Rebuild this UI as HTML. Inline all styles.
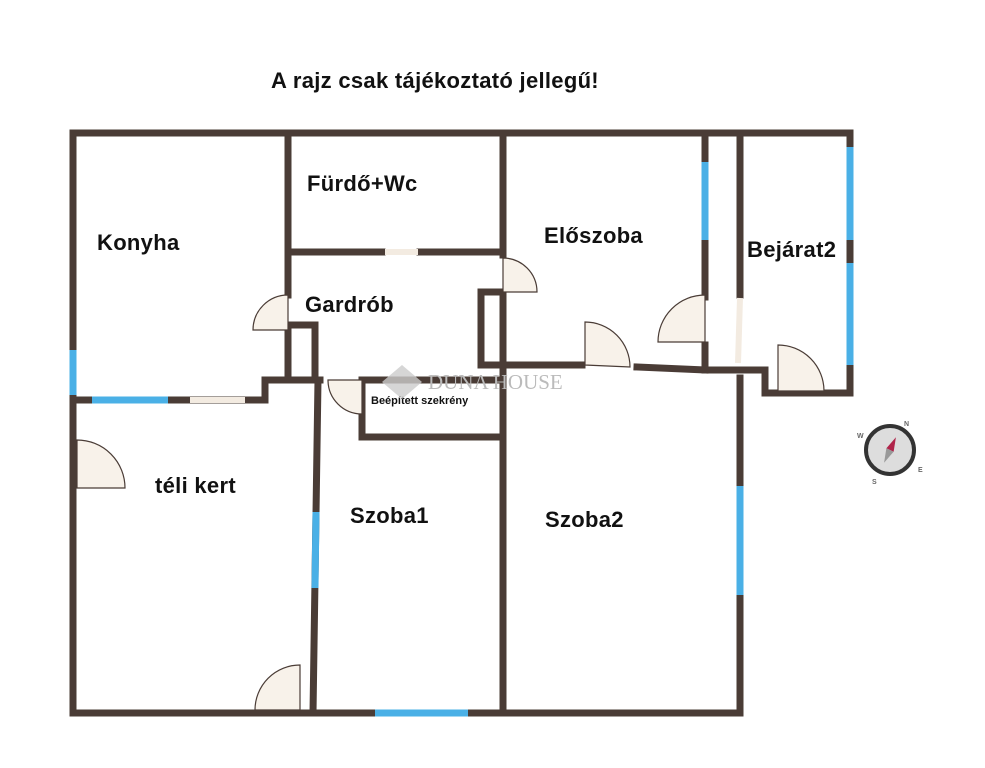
<!DOCTYPE html>
<html><head><meta charset="utf-8"><style>
html,body{margin:0;padding:0;background:#fff;}
svg{display:block}
text{font-family:"Liberation Sans",sans-serif;font-weight:bold;fill:#111}
.l{font-size:22px;letter-spacing:0.3px}
</style></head><body>
<svg width="985" height="768" viewBox="0 0 985 768" xmlns="http://www.w3.org/2000/svg">
<text x="435" y="88" font-size="22" text-anchor="middle" style="letter-spacing:0.3px">A rajz csak tájékoztató jellegű!</text>
<g stroke="#4a3c36" stroke-width="7" fill="none" stroke-linecap="square">
<path d="M850 133 H73 V713 H740"/>
<path d="M850 133 V393 H770"/>
<path d="M288 133 V295 M288 330 V380"/>
<path d="M288 252 H382 M420 252 H503"/>
<path d="M503 133 V255"/>
<path d="M503 292 H481 V365 H582 M637 367 L705 370"/>
<path d="M503 292 V713"/>
<path d="M705 133 V297 M705 345 V370 H765 V393"/>
<path d="M740 133 V295"/>
<path d="M740 378 V713"/>
<path d="M288 325 H315 V380"/>
<path d="M73 400 H265 V380 H320"/>
<path d="M318 380 L313 713"/>
<path d="M362 380 H503 M362 380 V437 H503"/>
</g>
<g stroke="#4ab0e6" stroke-width="7" fill="none">
<path d="M73 350 V395"/>
<path d="M92 400 H168"/>
<path d="M850 147 V240 M850 263 V365"/>
<path d="M705 162 V240"/>
<path d="M740 486 V595"/>
<path d="M316 512 L315 588"/>
<path d="M375 713 H468"/>
</g>
<g stroke="#f3ebe1" stroke-width="6">
<path d="M190 400 H245"/><path d="M385 252 H418"/><path d="M740 298 L738 363"/>
</g>
<g fill="#f8f2ea" stroke="#4a3c36" stroke-width="1.2">
<path d="M288 330 L253 330 A35 35 0 0 1 288 295 Z"/>
<path d="M503 292 L503 258 A34 34 0 0 1 537 292 Z"/>
<path d="M362 380 L328 380 A34 34 0 0 0 362 414 Z"/>
<path d="M585 365 L585 322 A45 45 0 0 1 630 367 Z"/>
<path d="M705 342 L658 342 A47 47 0 0 1 705 295 Z"/>
<path d="M778 391 L778 345 A46 46 0 0 1 824 391 Z"/>
<path d="M77 488 L77 440 A48 48 0 0 1 125 488 Z"/>
<path d="M300 710 L255 710 A45 45 0 0 1 300 665 Z"/>
</g>
<text class="l" x="97" y="250">Konyha</text>
<text class="l" x="307" y="191">Fürdő+Wc</text>
<text class="l" x="305" y="312">Gardrób</text>
<text class="l" x="544" y="243">Előszoba</text>
<text class="l" x="747" y="257">Bejárat2</text>
<text class="l" x="155" y="493">téli kert</text>
<text class="l" x="350" y="523">Szoba1</text>
<text class="l" x="545" y="527">Szoba2</text>
<text x="371" y="404" font-size="11">Beépített szekrény</text>
<text x="428" y="389" font-size="21" style="font-family:'Liberation Serif',serif;font-weight:normal;fill:#bbb">DUNA HOUSE</text>
<path d="M402 365 L422 382 L402 399 L382 382 Z" fill="#ccc" opacity="0.8"/>
<g transform="translate(890,450)">
<circle r="24" fill="#ddd" stroke="#333" stroke-width="4"/>
<path d="M0 -14 L4 0 L-4 0 Z" fill="#b0244a" transform="rotate(25)"/>
<path d="M0 14 L4 0 L-4 0 Z" fill="#999" transform="rotate(25)"/>
<text x="14" y="-24" font-size="7" style="fill:#666">N</text>
<text x="-33" y="-12" font-size="7" style="fill:#666">W</text>
<text x="28" y="22" font-size="7" style="fill:#666">E</text>
<text x="-18" y="34" font-size="7" style="fill:#666">S</text>
</g>
</svg>
</body></html>
